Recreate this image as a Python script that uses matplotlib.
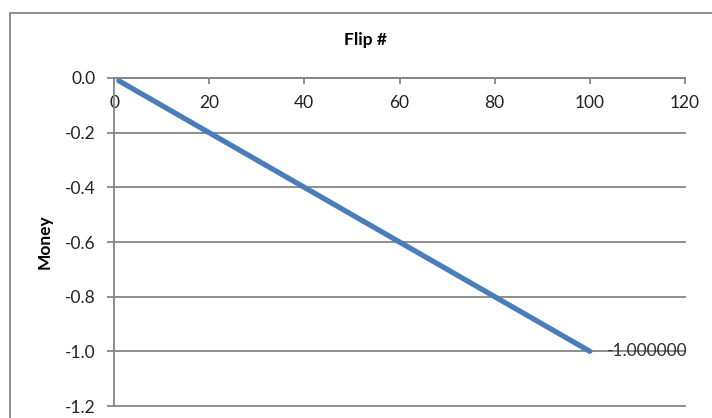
import matplotlib.pyplot as plt
from matplotlib.patches import Rectangle

# money after each flip (sampled along the run)
flips = [1, 5, 10, 15, 20, 25, 30, 35, 40, 45, 50, 55, 60, 65, 70, 75, 80, 85, 90, 95, 100]
money = [-0.01, -0.05, -0.10, -0.15, -0.20, -0.25, -0.30, -0.35, -0.40, -0.45, -0.50,
         -0.55, -0.60, -0.65, -0.70, -0.75, -0.80, -0.85, -0.90, -0.95, -1.00]
final_label = "-1.000000"

x_ticks = [0, 20, 40, 60, 80, 100, 120]
y_ticks = [0.0, -0.2, -0.4, -0.6, -0.8, -1.0, -1.2]

plt.rcParams['font.family'] = ['Lato', 'DejaVu Sans']
plt.rcParams['axes.unicode_minus'] = False

grey = '#868686'
blue = '#4A7EBB'

fig = plt.figure(figsize=(7.12, 4.18), dpi=100)
ax = fig.add_axes([114 / 712, 1 - 406 / 418, (685 - 114) / 712, (406 - 78) / 418])

ax.plot(flips, money, color=blue, linewidth=3.8, solid_capstyle='round')
ax.annotate(final_label, (flips[-1], money[-1]), xytext=(12, 0), textcoords='offset points',
            va='center', ha='left', fontsize=12.5, color='#303030')

ax.set_xlim(0, 120)
ax.set_ylim(-1.2, 0)
ax.set_xticks(x_ticks)
ax.set_yticks(y_ticks)
ax.set_yticklabels([f"{v:.1f}" if v != 0 else "0.0" for v in y_ticks])

# x axis sits at y = 0, i.e. along the top of the plot
ax.spines['bottom'].set_position(('data', 0))
ax.spines['top'].set_visible(False)
ax.spines['right'].set_visible(False)
for s in ('bottom', 'left'):
    ax.spines[s].set_color(grey)
    ax.spines[s].set_linewidth(1.3)

ax.tick_params(axis='x', direction='out', length=4, width=1.3, color=grey,
               labelsize=12.5, labelcolor='#222222', pad=8)
ax.tick_params(axis='y', direction='out', length=5, width=1.3, color=grey,
               labelsize=12.5, labelcolor='#222222', pad=8)

ax.yaxis.grid(True, color=grey, linewidth=1.3)
ax.set_axisbelow(True)
for gl in ax.yaxis.get_gridlines():
    gl.set_clip_on(False)

fig.text(366 / 712, 1 - 40 / 418, "Flip #", ha='center', va='center',
         fontsize=12.5, fontweight='bold')
fig.text(45 / 712, 1 - 242 / 418, "Money", ha='center', va='center',
         rotation=90, fontsize=12.5, fontweight='bold')

# chart area border
fig.add_artist(Rectangle((10 / 712, -0.2), 1.2, 1.2 - 13 / 418,
                         transform=fig.transFigure, fill=False,
                         edgecolor=grey, linewidth=1.3, clip_on=False))

fig.savefig('out.png', dpi=100)
